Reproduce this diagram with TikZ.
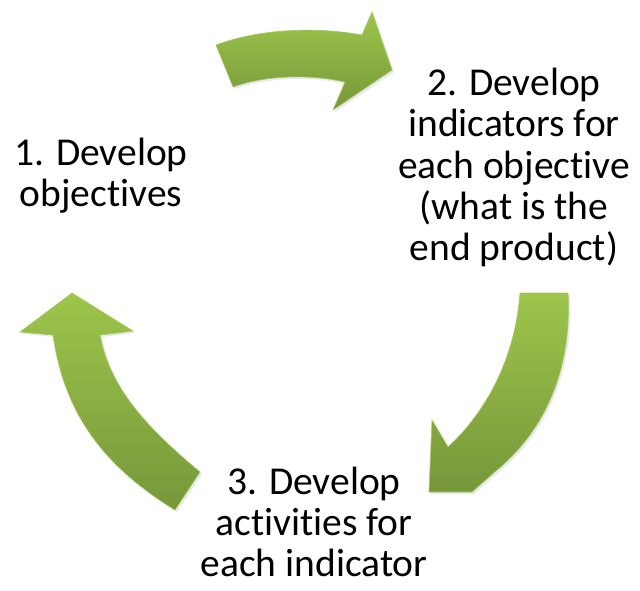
\documentclass[tikz,border=0pt]{standalone}
\usepackage{fontspec}
\setmainfont{Carlito}[Ligatures={NoCommon}]
\usetikzlibrary{shadows}
\definecolor{gtop}{RGB}{157,197,75}
\definecolor{gbot}{RGB}{118,151,58}
\definecolor{gedge}{RGB}{165,201,92}
\tikzset{
  cyclearrow/.style={top color=gtop, bottom color=gbot, draw=gedge, line width=0.6pt, line join=miter,
    drop shadow={opacity=0.18, shadow xshift=2pt, shadow yshift=-2pt}},
  label/.style={align=center, font=\fontsize{39.5}{40.7}\selectfont, text=black, inner sep=0pt}
}
\begin{document}
\begin{tikzpicture}[x=1pt, y=-1pt]
\useasboundingbox (0,0) rectangle (640,590);
% arrow 1 (top, pointing right)
\path[cyclearrow] (216,45) .. controls (262,28) and (318,27) .. (362,35) -- (372,12) -- (392,70) -- (333,110) -- (345,82)
  .. controls (310,74) and (266,75) .. (233,87) -- cycle;
% arrow 2 (right, pointing down-left)
\path[cyclearrow] (520,293) -- (568,293) .. controls (572,370) and (545,430) .. (497,470) -- (472,492) -- (429,492) -- (432,420) -- (448,447)
  .. controls (485,413) and (515,360) .. (520,293) -- cycle;
% arrow 3 (left, pointing up)
\path[cyclearrow] (200,472) .. controls (150,430) and (110,390) .. (100,335) -- (133,331) -- (72,293) -- (20,332) -- (53,335)
  .. controls (65,420) and (110,470) .. (175,510) -- cycle;
% labels
\node[label] (t1) at (101,175.5) {1. Develop\\objectives};
\node[label, font=\fontsize{39.5}{41.4}\selectfont] (t2) at (514,167.5) {2. Develop\\indicators for\\each objective\\(what is the\\end product)};
\node[label] (t3) at (314,522) {3. Develop\\activities for\\each indicator};
\end{tikzpicture}
\end{document}
